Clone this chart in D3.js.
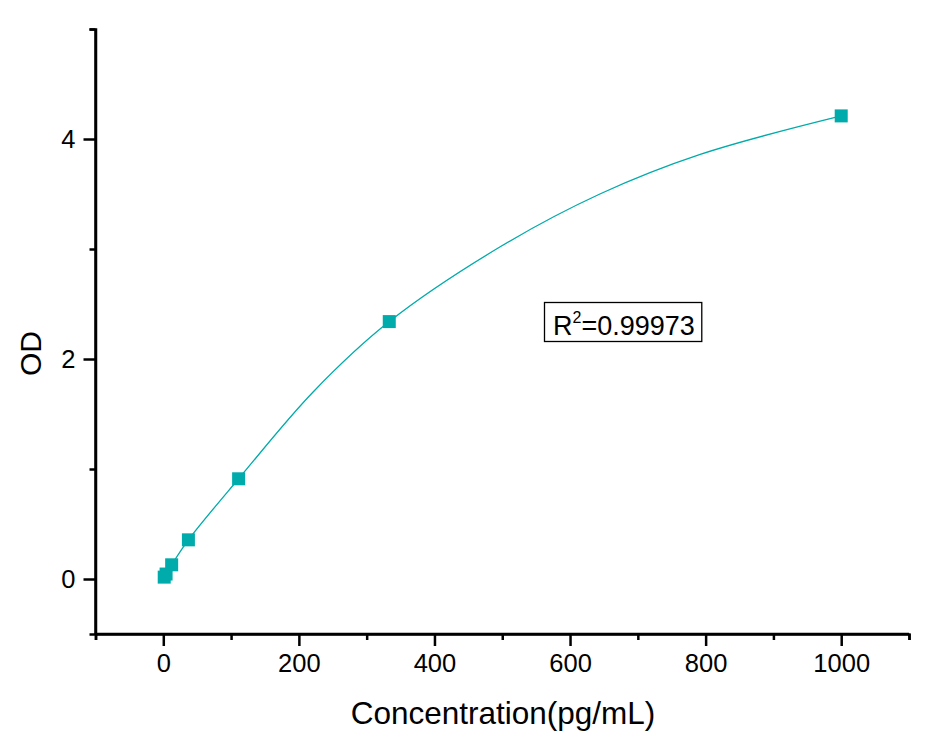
<!DOCTYPE html>
<html>
<head>
<meta charset="utf-8">
<script src="https://cdn.jsdelivr.net/npm/d3@7"></script>
<style>
  body { margin: 0; background: #fff; }
  svg text { font-family: Arial, "Liberation Sans", sans-serif; fill: #000; }
</style>
</head>
<body>
<svg id="chart" width="944" height="741"></svg>
<script>
// ######## Standard curve data
const conc = [1.37, 4.12, 12.35, 37.04, 111.11, 333.33, 1000];
const od = [0.017, 0.045, 0.129, 0.356, 0.911, 2.34, 4.21];

// fitted line
const fitX = [1.37, 4.12, 12.35, 37.04, 111.11, 221, 333.33, 497, 644, 792, 1000];
const fitY = [0.017, 0.045, 0.129, 0.356, 0.911, 1.70, 2.34, 3.02, 3.50, 3.86, 4.21];

const xMajor = [0, 200, 400, 600, 800, 1000];
const xMinor = [-100, 100, 300, 500, 700, 900, 1100];
const yMajor = [0, 2, 4];
const yMinor = [1, 3, 5];

const r2Text = "0.99973";

// ######## Layout
var svg = d3.select("#chart");
var teal = "#00abab";

var x = d3.scaleLinear().domain([-100, 1100]).range([95.5, 909]);
var y = d3.scaleLinear().domain([-0.5, 5]).range([634, 29]);

// ######## Axes
var xAxis = svg.append("g").attr("transform", "translate(0," + y(-0.5) + ")");
xAxis.call(d3.axisBottom(x).tickValues(xMajor).tickSize(12).tickPadding(8).tickFormat(d3.format("d")));
xAxis.append("g").call(d3.axisBottom(x).tickValues(xMinor).tickSize(6).tickFormat(""));

var yAxis = svg.append("g").attr("transform", "translate(" + x(-100) + ",0)");
yAxis.call(d3.axisLeft(y).tickValues(yMajor).tickSize(12).tickPadding(8).tickFormat(d3.format("d")));
yAxis.append("g").call(d3.axisLeft(y).tickValues(yMinor).tickSize(6).tickFormat(""));

svg.selectAll(".domain").attr("stroke", "#000").attr("stroke-width", 2.5);
svg.selectAll(".tick line").attr("stroke", "#000").attr("stroke-width", 2.5);
svg.selectAll(".tick text")
   .style("font-size", "25.5px")
   .style("font-family", "Arial, 'Liberation Sans', sans-serif")
   .attr("fill", "#000");

// remove the outer end caps of the domain path
xAxis.select(".domain").attr("d", "M" + x(-100) + ",0H" + x(1100));
yAxis.select(".domain").attr("d", "M0," + y(-0.5) + "V" + y(5));
xAxis.select("g").select(".domain").remove();
yAxis.select("g").select(".domain").remove();

// ######## Axis titles
svg.append("text")
   .attr("x", 503).attr("y", 724)
   .attr("text-anchor", "middle")
   .style("font-size", "31.5px")
   .text("Concentration(pg/mL)");

svg.append("text")
   .attr("transform", "translate(41," + y(2.05) + ") rotate(-90)")
   .attr("text-anchor", "middle")
   .style("font-size", "30px")
   .text("OD");

// ######## Fitted curve
var fit = fitX.map((v, i) => [v, fitY[i]]);
var line = d3.line()
    .x(d => x(d[0]))
    .y(d => y(d[1]))
    .curve(d3.curveCatmullRom.alpha(0.5));

svg.append("path")
   .datum(fit)
   .attr("d", line)
   .attr("fill", "none")
   .attr("stroke", teal)
   .attr("stroke-width", 1.3);

// ######## Points
var size = 13;
svg.selectAll(".pt")
   .data(conc.map((v, i) => [v, od[i]]))
   .enter().append("rect")
   .attr("class", "pt")
   .attr("x", d => x(d[0]) - size / 2)
   .attr("y", d => y(d[1]) - size / 2)
   .attr("width", size)
   .attr("height", size)
   .attr("fill", teal);

// ######## R^2 label
var label = svg.append("g");
var t = label.append("text")
   .attr("x", 553).attr("y", 335)
   .style("font-size", "27px");
t.append("tspan").text("R");
t.append("tspan").attr("dy", -12).style("font-size", "16px").text("2");
t.append("tspan").attr("dy", 12).text("=" + r2Text);

var bb = t.node().getBBox();
label.insert("rect", "text")
   .attr("x", 544.5).attr("y", 302.5)
   .attr("width", bb.x + bb.width + 7 - 544.5)
   .attr("height", 39)
   .attr("fill", "#fff")
   .attr("stroke", "#000")
   .attr("stroke-width", 1.3);
</script>
</body>
</html>
